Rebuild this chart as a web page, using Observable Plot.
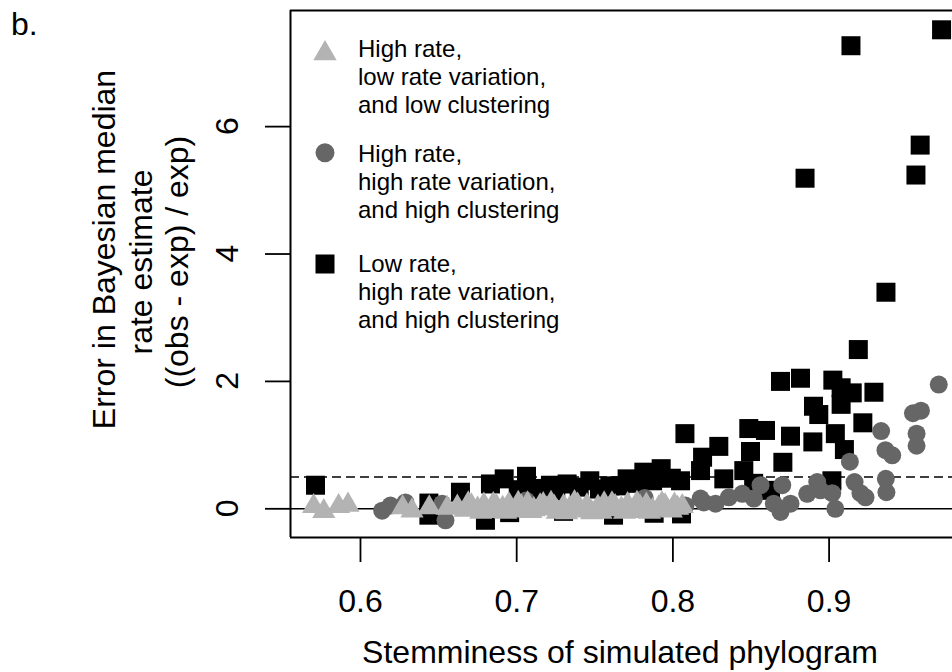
<!DOCTYPE html>
<html><head><meta charset="utf-8">
<script src="https://cdn.jsdelivr.net/npm/d3@7"></script>
<script src="https://cdn.jsdelivr.net/npm/@observablehq/plot@0.6"></script>
<style>
html,body{margin:0;padding:0;background:#fff;overflow:hidden;}
#chart{position:relative;width:952px;height:672px;}
</style></head><body><div id="chart"></div>
<script>
// ---- data ----
const xTicks = [0.6, 0.7, 0.8, 0.9];
const yTicks = [0, 2, 4, 6];
const refSolid = [0];
const refDashed = [0.5];

// High rate, low rate variation, low clustering (light grey triangles)
const triX = [0.5700,0.5765,0.5860,0.5920,0.6270,0.6330,0.6440,0.6555,
  0.662,0.667,0.671,0.675,0.679,0.683,0.687,0.691,0.695,0.699,0.703,0.707,0.711,0.715,0.719,0.722,
  0.726,0.730,0.734,0.737,0.741,0.745,0.748,0.752,0.756,0.759,0.763,0.767,0.771,0.775,0.779,0.783,
  0.787,0.791,0.795,0.799,0.803,0.806,
  0.669,0.677,0.685,0.693,0.701,0.709,0.717,0.724,0.732,0.739,0.746,0.754,0.761,0.769,0.777,0.785,
  0.793,0.801];
const triY = [0.04,-0.04,0.04,0.06,0.02,-0.03,0.02,0.01,
  0.03,-0.02,0.05,0.00,0.06,-0.04,0.04,0.01,0.07,-0.03,0.03,0.08,-0.01,0.05,0.00,0.09,
  -0.05,0.04,0.01,0.10,-0.02,0.05,-0.06,0.03,0.08,-0.01,0.04,0.00,0.07,-0.04,0.03,0.06,
  -0.02,0.02,0.05,-0.03,0.01,0.04,
  0.08,-0.05,0.07,-0.05,0.09,-0.04,0.07,0.03,-0.06,0.06,-0.03,-0.05,0.08,-0.05,0.09,-0.05,
  0.08,0.06];

// High rate, high rate variation, high clustering (dark grey circles)
const cirX = [0.6139,0.6192,0.6288,0.6523,0.6544,0.7060,0.7820,0.8080,0.8177,0.8198,0.8273,0.8358,
  0.8444,0.8518,0.8561,0.8646,0.8689,0.8700,0.8753,0.8860,0.8924,0.8945,0.9020,0.9040,0.9133,0.9163,
  0.9201,0.9233,0.9333,0.9361,0.9404,0.9363,0.9367,0.9537,0.9588,0.9560,0.9560,0.9702];
const cirY = [-0.03,0.05,0.10,0.08,-0.18,0.13,0.17,0.05,0.16,0.10,0.08,0.18,
  0.235,0.16,0.37,0.08,-0.05,0.37,0.08,0.235,0.42,0.29,0.245,0.00,0.74,0.42,
  0.245,0.18,1.22,0.92,0.84,0.47,0.26,1.50,1.54,1.18,0.99,1.95];

// Low rate, high rate variation, high clustering (black squares)
const sqX = [0.5712,0.6438,0.6438,0.6640,0.6800,0.6832,0.6920,0.7063,0.7108,0.7216,0.7323,0.7468,
  0.7596,0.7707,0.7814,0.7925,0.8049,0.8077,0.8177,0.8190,0.8294,0.8326,0.8454,0.8486,0.8497,0.8517,
  0.8593,0.8625,0.8704,0.8753,0.8689,0.8817,0.8896,0.8900,0.8934,0.9018,0.9024,0.9040,0.9077,0.9077,
  0.9098,0.9148,0.9187,0.9216,0.9287,0.9364,0.8846,0.9140,0.9556,0.9583,0.9720,
  0.6955,0.7300,0.7620,0.7880,0.8055,
  0.7160,0.7400,0.7530,0.7660,0.7760,0.7870,0.7990,0.7010,0.7250];
const sqY = [0.37,0.09,-0.10,0.26,-0.18,0.39,0.47,0.51,0.32,0.37,0.39,0.44,
  0.36,0.47,0.575,0.63,0.44,1.18,0.60,0.81,0.98,0.47,0.60,1.26,0.90,0.40,
  1.23,0.29,0.73,1.14,2.00,2.05,1.05,1.61,1.48,0.44,2.02,1.18,1.90,1.64,
  0.93,1.82,2.50,1.35,1.83,3.40,5.19,7.27,5.24,5.71,7.52,
  -0.06,-0.04,-0.10,-0.07,-0.08,
  0.30,0.34,0.31,0.36,0.40,0.44,0.48,0.30,0.28];

const legendSymbols = ["triangle", "circle", "square"];
const legendColors = ["#b3b3b3", "#666666", "#000000"];
const legendLabels = [
  ["High rate,", "low rate variation,", "and low clustering"],
  ["High rate,", "high rate variation,", "and high clustering"],
  ["Low rate,", "high rate variation,", "and high clustering"]
];
const xTitle = "Stemminess of simulated phylogram";
const yTitle = ["Error in Bayesian median", "rate estimate", "((obs - exp) / exp)"];
const panelTag = "b.";

// ---- build ----
const FONT = "'Liberation Sans', Arial, Helvetica, sans-serif";
const tri = triX.map((x, i) => ({x, y: triY[i]}));
const cir = cirX.map((x, i) => ({x, y: cirY[i]}));
const sq = sqX.map((x, i) => ({x, y: sqY[i]}));
const xDom = [0.5552, 0.9790];
const yDom = [-0.4505, 7.823];

const plot = Plot.plot({
  width: 952, height: 672,
  marginLeft: 290, marginRight: 0, marginTop: 10, marginBottom: 135,
  style: {fontFamily: FONT, fontSize: "32px", background: "white", color: "black"},
  x: {domain: xDom, label: null},
  y: {domain: yDom, label: null},
  marks: [
    Plot.ruleY(refSolid, {stroke: "black", strokeWidth: 1.6}),
    Plot.ruleY(refDashed, {stroke: "black", strokeWidth: 1.6, strokeDasharray: "9,5"}),
    Plot.dot(sq, {x: "x", y: "y", symbol: "square", r: 10.72, fill: "black", clip: true}),
    Plot.dot(cir, {x: "x", y: "y", symbol: "circle", r: 9, fill: "#666666", clip: true}),
    Plot.dot(tri, {x: "x", y: "y", symbol: "triangle", r: 8.6, fill: "#b3b3b3", clip: true}),
    Plot.ruleX([xDom[0]], {stroke: "black", strokeWidth: 2}),
    Plot.ruleY(yDom, {stroke: "black", strokeWidth: 2}),
    Plot.axisX(xTicks, {tickSize: 25, tickPadding: 27, fontSize: 32, label: null, strokeWidth: 1.8,
      tickFormat: d => String(d)}),
    Plot.axisY(yTicks, {tickSize: 25, tickFormat: () => "", label: null, strokeWidth: 1.8})
  ]
});

const svg = d3.select(plot);
const ys = plot.scale("y");
const tf = (s, anchor) => s.attr("font-family", FONT).attr("fill", "black").attr("text-anchor", anchor);

// y tick labels, rotated like R's las=0
yTicks.forEach(t => {
  svg.append("text").call(tf, "middle").attr("font-size", 32)
    .attr("transform", `translate(238,${ys.apply(t)}) rotate(-90)`).text(String(t));
});

// axis titles
svg.append("text").call(tf, "middle").attr("font-size", 32)
  .attr("x", 620).attr("y", 663).text(xTitle);
const yTitlePos = [[115, 249.5], [151.7, 262], [187.5, 262]];
yTitle.forEach((s, i) => {
  svg.append("text").call(tf, "middle").attr("font-size", 32)
    .attr("transform", `translate(${yTitlePos[i][0]},${yTitlePos[i][1]}) rotate(-90)`).text(s);
});
svg.append("text").call(tf, "start").attr("font-size", 32).attr("x", 11).attr("y", 35).text(panelTag);

// legend
const symMap = {triangle: d3.symbolTriangle, circle: d3.symbolCircle, square: d3.symbolSquare};
const symSize = {triangle: 235, circle: 283.5, square: 361};
const symY = [53.4, 152.7, 264];
const textBase = [56.7, 161.7, 271.7];
legendSymbols.forEach((s, i) => {
  svg.append("path").attr("d", d3.symbol(symMap[s], symSize[s])())
    .attr("transform", `translate(325,${symY[i]})`).attr("fill", legendColors[i]);
  legendLabels[i].forEach((line, j) => {
    svg.append("text").call(tf, "start").attr("font-size", 24).attr("x", 358)
      .attr("y", textBase[i] + j * 27.9).text(line);
  });
});

document.getElementById("chart").appendChild(plot);
</script></body></html>
